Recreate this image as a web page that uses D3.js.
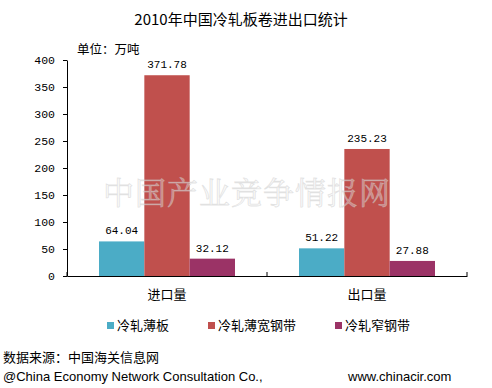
<!DOCTYPE html>
<html>
<head>
<meta charset="utf-8">
<script src="https://cdn.jsdelivr.net/npm/d3@7"></script>
<style>
  body { margin: 0; background: #fff; }
  text { font-family: "Noto Sans CJK SC", "Liberation Sans", sans-serif; }
  .num { font-family: "Liberation Mono", "DejaVu Sans Mono", monospace; }
</style>
</head>
<body>
<div id="chart"></div>
<script>
// data
const categories = ["进口量", "出口量"];
const seriesNames = ["冷轧薄板", "冷轧薄宽钢带", "冷轧窄钢带"];
const seriesColors = ["#4bacc6", "#c0504d", "#9b3366"];
const values = [
    [64.04, 51.22],    // 冷轧薄板
    [371.78, 235.23],  // 冷轧薄宽钢带
    [32.12, 27.88]     // 冷轧窄钢带
];
const yTicks = [0, 50, 100, 150, 200, 250, 300, 350, 400];

const width = 492;
const height = 388;

const svg = d3.select("#chart")
    .append("svg")
    .attr("width", width)
    .attr("height", height);

svg.append("rect").attr("width", width).attr("height", height).attr("fill", "#fff");

const x0 = d3.scaleBand()
    .domain(categories)
    .range([67, 467])
    .paddingInner(0)
    .paddingOuter(0);

const x1 = d3.scaleBand()
    .domain(seriesNames)
    .range([32, 200 - 32]);

const y = d3.scaleLinear()
    .domain([0, 400])
    .range([276, 60]);

// title
svg.append("text")
    .attr("x", 241)
    .attr("y", 25)
    .attr("text-anchor", "middle")
    .style("font-size", "15px")
    .text("2010年中国冷轧板卷进出口统计");

svg.append("text")
    .attr("x", 77)
    .attr("y", 54)
    .style("font-size", "12.5px")
    .text("单位：万吨");

// bars
const rows = [];
seriesNames.forEach((s, i) => {
    categories.forEach((c, j) => rows.push({ s, c, v: values[i][j], color: seriesColors[i] }));
});

svg.append("g")
    .selectAll("rect")
    .data(rows)
    .join("rect")
    .attr("x", d => x0(d.c) + x1(d.s))
    .attr("y", d => y(d.v))
    .attr("width", x1.bandwidth())
    .attr("height", d => y(0) - y(d.v))
    .attr("fill", d => d.color);

// watermark
svg.append("text")
    .attr("x", 247)
    .attr("y", 204)
    .attr("text-anchor", "middle")
    .style("font-family", "'Noto Serif CJK SC', 'Noto Sans CJK SC', serif")
    .style("font-size", "31px")
    .style("letter-spacing", "1px")
    .attr("fill", "#f4f4f4")
    .attr("fill-opacity", 0.35)
    .attr("stroke", "#c8c8c8")
    .attr("stroke-opacity", 0.5)
    .attr("stroke-width", 0.8)
    .text("中国产业竞争情报网");

// value labels
svg.append("g")
    .selectAll("text")
    .data(rows)
    .join("text")
    .attr("class", "num")
    .attr("x", d => x0(d.c) + x1(d.s) + x1.bandwidth() / 2)
    .attr("y", d => y(d.v) - 7)
    .attr("text-anchor", "middle")
    .style("font-size", "11px")
    .text(d => d.v.toFixed(2));

// y axis
const yAxis = svg.append("g")
    .attr("transform", "translate(67,0)")
    .call(d3.axisLeft(y).tickValues(yTicks).tickSize(4).tickPadding(8).tickSizeOuter(0));
yAxis.select(".domain").attr("stroke", "#000");
yAxis.selectAll(".tick text")
    .attr("class", "num")
    .style("font-size", "11.5px")
    .attr("fill", "#000");

// x axis
const xAxis = svg.append("g")
    .attr("transform", "translate(0,276)")
    .call(d3.axisBottom(x0).tickSize(0).tickPadding(0).tickSizeOuter(0));
xAxis.select(".domain").attr("stroke", "#000");
xAxis.selectAll(".tick text")
    .attr("dy", 0)
    .attr("y", 23)
    .style("font-size", "13px")
    .attr("fill", "#000");
// category separators (ticks point up)
xAxis.selectAll(".sep")
    .data([67, 267, 467])
    .join("line")
    .attr("x1", d => d).attr("x2", d => d)
    .attr("y1", 0).attr("y2", -4)
    .attr("stroke", "#000");

// legend
const legendX = [107, 208, 335];
const legend = svg.append("g")
    .selectAll("g")
    .data(seriesNames)
    .join("g")
    .attr("transform", (d, i) => `translate(${legendX[i]},0)`);
legend.append("rect")
    .attr("x", 0).attr("y", 322)
    .attr("width", 7).attr("height", 7)
    .attr("fill", (d, i) => seriesColors[i]);
legend.append("text")
    .attr("x", 10).attr("y", 330)
    .style("font-size", "13px")
    .text(d => d);

// footer
svg.append("text")
    .attr("x", 3).attr("y", 362)
    .style("font-size", "13px")
    .text("数据来源：中国海关信息网");
svg.append("text")
    .attr("x", 3).attr("y", 381)
    .style("font-family", "'Liberation Sans', Arial, sans-serif")
    .style("font-size", "13px")
    .text("@China Economy Network Consultation Co.,");
svg.append("text")
    .attr("x", 348).attr("y", 381)
    .style("font-family", "'Liberation Sans', Arial, sans-serif")
    .style("font-size", "13px")
    .text("www.chinacir.com");
</script>
</body>
</html>
